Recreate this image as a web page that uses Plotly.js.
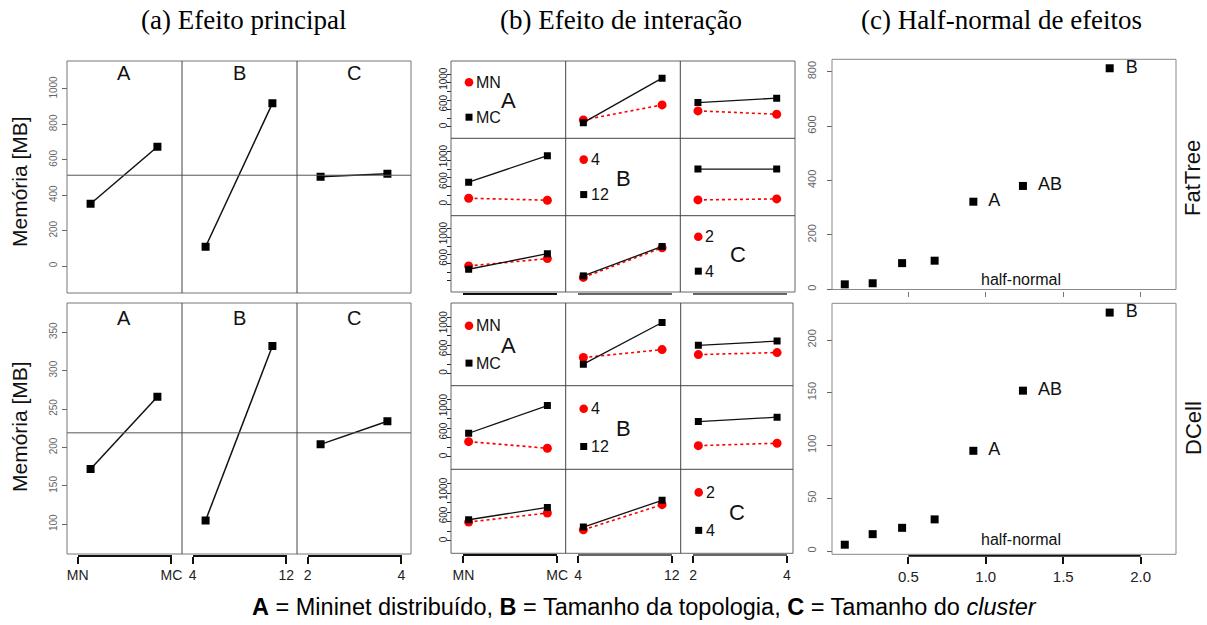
<!DOCTYPE html>
<html><head><meta charset="utf-8">
<script src="https://cdn.plot.ly/plotly-3.0.1.min.js"></script>
<style>html,body{margin:0;padding:0;background:#fff;}</style>
</head><body><div id="chart" style="width:1207px;height:625px;"></div>
<script>
// ---------------- data ----------------
const factorNames = ['A', 'B', 'C'];
const levelsA = ['MN', 'MC'];
const levelsB = ['4', '12'];
const levelsC = ['2', '4'];
const topologies = ['FatTree', 'DCell'];
const panelTitles = ['(a) Efeito principal', '(b) Efeito de interação', '(c) Half-normal de efeitos'];
const yTitle = 'Memória [MB]';
const caption = '<b>A</b> = Mininet distribuído, <b>B</b> = Tamanho da topologia, <b>C</b> = Tamanho do <i>cluster</i>';

// (a) main effects (MB)
const fatMainA = [352, 674];
const fatMainB = [109, 919];
const fatMainC = [505, 521];
const dcMainA = [172, 266];
const dcMainB = [105, 332];
const dcMainC = [204, 234];
const fatMainTicks = [0, 200, 400, 600, 800, 1000];
const dcMainTicks = [100, 150, 200, 250, 300, 350];

// (b) interactions: row factor = line (red = 1st level, black = 2nd level), column factor = x
const fatAB_red = [158, 501], fatAB_black = [96, 1110];
const fatAC_red = [364, 288], fatAC_black = [553, 654];
const fatBA_red = [137, 92],  fatBA_black = [503, 1104];
const fatBC_red = [99, 121],  fatBC_black = [800, 800];
const fatCA_red = [341, 510], fatCA_black = [265, 624];
const fatCB_red = [76, 761],  fatCB_black = [112, 791];

const dcAB_red = [339, 508], dcAB_black = [198, 1084];
const dcAC_red = [402, 445], dcAC_black = [599, 689];
const dcBA_red = [322, 183], dcBA_black = [499, 1082];
const dcBC_red = [238, 289], dcBC_black = [744, 837];
const dcCA_red = [394, 584], dcCA_black = [443, 702];
const dcCB_red = [232, 759], dcCB_black = [289, 850];
const interTicks = [0, 200, 400, 600, 800, 1000, 1200];
const interTickText = ['0', '', '', '600', '', '1000', ''];

// (c) half-normal plot
const halfNormalQ = [0.09, 0.27, 0.46, 0.67, 0.92, 1.24, 1.80];
const fatEffects = [18, 22, 96, 105, 322, 380, 813];
const dcEffects = [6, 16, 22, 30, 95, 152, 226];
const effectLabels = ['', '', '', '', 'A', 'AB', 'B'];
const fatEffTicks = [0, 200, 400, 600, 800];
const dcEffTicks = [0, 50, 100, 150, 200];
const hnTicks = [0.5, 1.0, 1.5, 2.0];
const hnTickText = ['0.5', '1.0', '1.5', '2.0'];
const hnNote = 'half-normal';

// ---------------- layout helpers ----------------
const W = 1207, H = 625;
const PX = v => v / W, PY = v => 1 - v / H;
const SANS = 'Liberation Sans, Arial, Helvetica, sans-serif';
const SERIF = 'Liberation Serif, Times New Roman, serif';
const NB = '\u00a0';
const layout = {
  width: W, height: H, margin: {l: 0, r: 0, t: 0, b: 0},
  paper_bgcolor: '#fff', plot_bgcolor: 'rgba(0,0,0,0)', showlegend: false,
  shapes: [], annotations: [], hovermode: false
};
const traces = [];
let nx = 0, ny = 0;
function newAxis(kind, opts) {
  const n = kind === 'x' ? ++nx : ++ny;
  const key = kind + 'axis' + (n === 1 ? '' : n);
  layout[key] = Object.assign({showgrid: false, zeroline: false, fixedrange: true, showline: false, ticks: ''}, opts);
  return kind + (n === 1 ? '' : n);
}
function line(x0, y0, x1, y1, color, width) {
  layout.shapes.push({type: 'line', xref: 'paper', yref: 'paper', x0: PX(x0), x1: PX(x1), y0: PY(y0), y1: PY(y1), line: {color, width}});
}
function rect(x0, y0, x1, y1, color, width, fill) {
  layout.shapes.push({type: 'rect', xref: 'paper', yref: 'paper', x0: PX(x0), x1: PX(x1), y0: PY(y1), y1: PY(y0),
    line: {color: color, width: width}, fillcolor: fill || 'rgba(0,0,0,0)'});
}
function circle(cx, cy, r, fill) {
  layout.shapes.push({type: 'circle', xref: 'paper', yref: 'paper', x0: PX(cx - r), x1: PX(cx + r), y0: PY(cy + r), y1: PY(cy - r),
    line: {width: 0}, fillcolor: fill});
}
function note(text, x, y, size, extra) {
  layout.annotations.push(Object.assign({text, x: PX(x), y: PY(y), xref: 'paper', yref: 'paper', showarrow: false,
    xanchor: 'center', yanchor: 'middle', font: {family: SANS, size, color: '#111'}}, extra || {}));
}
function yTickAxis(top, bottom, left, range, vals, texts, size, color, standoff, len) {
  return newAxis('y', {domain: [PY(bottom), PY(top)], range, anchor: 'free', position: PX(left), side: 'left',
    tickmode: 'array', tickvals: vals, ticktext: texts, ticks: 'outside', ticklen: len || 5, tickwidth: 1, tickcolor: color,
    tickangle: -90, ticklabelstandoff: standoff, tickfont: {family: SANS, size, color}});
}

// ---------------- (a) main effects ----------------
const mainX = [67, 182, 297, 411];
const levelSets = [levelsA, levelsB, levelsC];
function mainEffects(top, bottom, yrange, yvals, series, showLabels, letterY) {
  const ya = yTickAxis(top, bottom, mainX[0], yrange, yvals, yvals.map(String), 10, '#666', 1);
  series.forEach((vals, i) => {
    const L = mainX[i];
    const xa = newAxis('x', {domain: [PX(L + 10.5), PX(L + 104.5)], range: [-0.196, 1.211], anchor: 'free',
      position: PY(bottom + 1.5), visible: showLabels, showline: true, linecolor: '#111', linewidth: 2,
      ticks: 'outside', ticklen: 7, tickwidth: 2, tickcolor: '#111', tickmode: 'array',
      tickvals: [-0.194, 1.209], ticktext: levelSets[i], tickfont: {family: SANS, size: 14, color: '#222'}});
    traces.push({type: 'scatter', mode: 'lines+markers', x: vals.map((_, k) => k), y: vals, xaxis: xa, yaxis: ya,
      line: {color: '#111', width: 1.5}, marker: {symbol: 'square', size: 8, color: '#000'}});
    note(factorNames[i], (L + mainX[i + 1]) / 2, letterY, 20);
  });
  const mean = series[0].reduce((a, b) => a + b, 0) / series[0].length;
  layout.shapes.push({type: 'line', xref: 'paper', yref: ya, x0: PX(mainX[0]), x1: PX(mainX[3]), y0: mean, y1: mean,
    line: {color: '#555', width: 1}});
  rect(mainX[0], top, mainX[3], bottom, '#777', 1);
  line(mainX[1], top, mainX[1], bottom, '#444', 1);
  line(mainX[2], top, mainX[2], bottom, '#444', 1);
}
mainEffects(61, 293, [-152, 1158], fatMainTicks, [fatMainA, fatMainB, fatMainC], false, 73);
mainEffects(303, 554, [61.3, 388], dcMainTicks, [dcMainA, dcMainB, dcMainC], true, 318);

// ---------------- (b) interactions ----------------
// pad the middle/top labels so that rotated labels sit apart as in the original
const paddedTickText = interTickText.map((t, i) => t === '' ? '' : (i === 3 ? t + NB + NB + NB : (i === 5 ? NB + NB + t : t)));
function interactions(colsX, rowsY, cells, topBlock) {
  const yas = [0, 1, 2].map(r => yTickAxis(rowsY[r], rowsY[r + 1], colsX[0], [-260, 1500], interTicks,
    (topBlock && r === 2) ? paddedTickText.map((t, i) => i === 0 ? '' : t) : paddedTickText, 10, '#222', -4, 4));
  const xas = [0, 1, 2].map(c => newAxis('x', {domain: [PX(colsX[c] + 12.3), PX(colsX[c] + 106.3)], range: [-0.068, 1.126],
    anchor: 'free', position: PY(rowsY[3] + 1.5), showline: true, linecolor: c === 0 ? '#111' : '#666', linewidth: 2,
    ticks: topBlock ? '' : 'outside', ticklen: 7, tickwidth: 2, tickcolor: '#111', showticklabels: !topBlock,
    tickmode: 'array', tickvals: [-0.066, 1.124], ticktext: levelSets[c], tickfont: {family: SANS, size: 14, color: '#222'}}));
  for (let r = 0; r < 3; r++) {
    for (let c = 0; c < 3; c++) {
      const L = colsX[c], T = rowsY[r], h = rowsY[r + 1] - rowsY[r];
      if (r === c) {
        circle(L + 18, T + 0.275 * h, 4.3, '#ff0000');
        rect(L + 14.5, T + 0.727 * h - 3.5, L + 21.5, T + 0.727 * h + 3.5, '#000', 0, '#000');
        note(levelSets[r][0], L + 23, T + 0.275 * h, 16, {xanchor: 'left'});
        note(levelSets[r][1], L + 23, T + 0.727 * h, 16, {xanchor: 'left'});
        note(factorNames[r], (L + colsX[c + 1]) / 2, T + 0.515 * h, 22);
        continue;
      }
      const cell = cells[r][c];
      traces.push({type: 'scatter', mode: 'lines+markers', x: cell.red.map((_, k) => k), y: cell.red,
        xaxis: xas[c], yaxis: yas[r], line: {color: '#ff0000', width: 1.6, dash: 'dot'},
        marker: {symbol: 'circle', size: 9, color: '#ff0000'}});
      traces.push({type: 'scatter', mode: 'lines+markers', x: cell.black.map((_, k) => k), y: cell.black,
        xaxis: xas[c], yaxis: yas[r], line: {color: '#111', width: 1.3},
        marker: {symbol: 'square', size: 7, color: '#000'}});
    }
  }
  rect(colsX[0], rowsY[0], colsX[3], rowsY[3], '#666', 1);
  line(colsX[1], rowsY[0], colsX[1], rowsY[3], '#444', 1);
  line(colsX[2], rowsY[0], colsX[2], rowsY[3], '#444', 1);
  line(colsX[0], rowsY[1], colsX[3], rowsY[1], '#444', 1);
  line(colsX[0], rowsY[2], colsX[3], rowsY[2], '#444', 1);
}
interactions([451, 565.7, 680.3, 795], [61, 138.3, 215.7, 292], [
  [null, {red: fatAB_red, black: fatAB_black}, {red: fatAC_red, black: fatAC_black}],
  [{red: fatBA_red, black: fatBA_black}, null, {red: fatBC_red, black: fatBC_black}],
  [{red: fatCA_red, black: fatCA_black}, {red: fatCB_red, black: fatCB_black}, null]
], true);
interactions([451, 565.7, 680.7, 793], [303, 385.7, 469.3, 553.3], [
  [null, {red: dcAB_red, black: dcAB_black}, {red: dcAC_red, black: dcAC_black}],
  [{red: dcBA_red, black: dcBA_black}, null, {red: dcBC_red, black: dcBC_black}],
  [{red: dcCA_red, black: dcCA_black}, {red: dcCB_red, black: dcCB_black}, null]
], false);

// ---------------- (c) half-normal ----------------
function halfNormal(L, T, R, B, yrange, yvals, effects, showLabels, noteY) {
  const ya = yTickAxis(T, B, L, yrange, yvals, yvals.map(String), 11, '#666', 7);
  const xa = newAxis('x', {domain: [PX(L), PX(R)], range: [0.0075, 2.228], anchor: 'free',
    position: PY(B + 1.5), showline: false,
    ticks: 'outside', ticklen: showLabels ? 7 : 5, tickwidth: showLabels ? 2 : 1, tickcolor: showLabels ? '#111' : '#777',
    showticklabels: showLabels, tickmode: 'array', tickvals: hnTicks, ticktext: hnTickText,
    tickfont: {family: SANS, size: 15, color: '#222'}});
  if (showLabels) {
    layout.shapes.push({type: 'line', xref: xa, yref: 'paper', x0: hnTicks[0], x1: hnTicks[hnTicks.length - 1],
      y0: PY(B + 1.5), y1: PY(B + 1.5), line: {color: '#111', width: 2}});
  }
  traces.push({type: 'scatter', mode: 'markers+text', x: halfNormalQ, y: effects, xaxis: xa, yaxis: ya,
    text: effectLabels, texttemplate: '  %{text}', textposition: 'middle right', cliponaxis: false,
    textfont: {family: SANS, size: 18, color: '#111'}, marker: {symbol: 'square', size: 8, color: '#000'}});
  rect(L, T, R, B, '#888', 1);
  note(hnNote, 1021, noteY, 16);
}
halfNormal(832, 59.3, 1176, 289.5, [-1, 846], fatEffTicks, fatEffects, false, 280);
halfNormal(832, 303.3, 1176, 554.3, [-3.1, 234.8], dcEffTicks, dcEffects, true, 539.5);

// ---------------- texts ----------------
note(panelTitles[0], 243, 20, 27, {font: {family: SERIF, size: 27, color: '#000'}});
note(panelTitles[1], 621, 20, 27, {font: {family: SERIF, size: 27, color: '#000'}});
note(panelTitles[2], 1001, 20, 27, {font: {family: SERIF, size: 27, color: '#000'}});
note(yTitle, 19, 182, 21, {textangle: -90});
note(yTitle, 19, 427, 21, {textangle: -90});
note(topologies[0], 1193, 178, 22, {textangle: -90});
note(topologies[1], 1193, 428, 22, {textangle: -90});
note(caption, 644, 607, 23.5, {font: {family: SANS, size: 23.5, color: '#000'}});

Plotly.newPlot('chart', traces, layout, {staticPlot: true, displayModeBar: false});
</script></body></html>
